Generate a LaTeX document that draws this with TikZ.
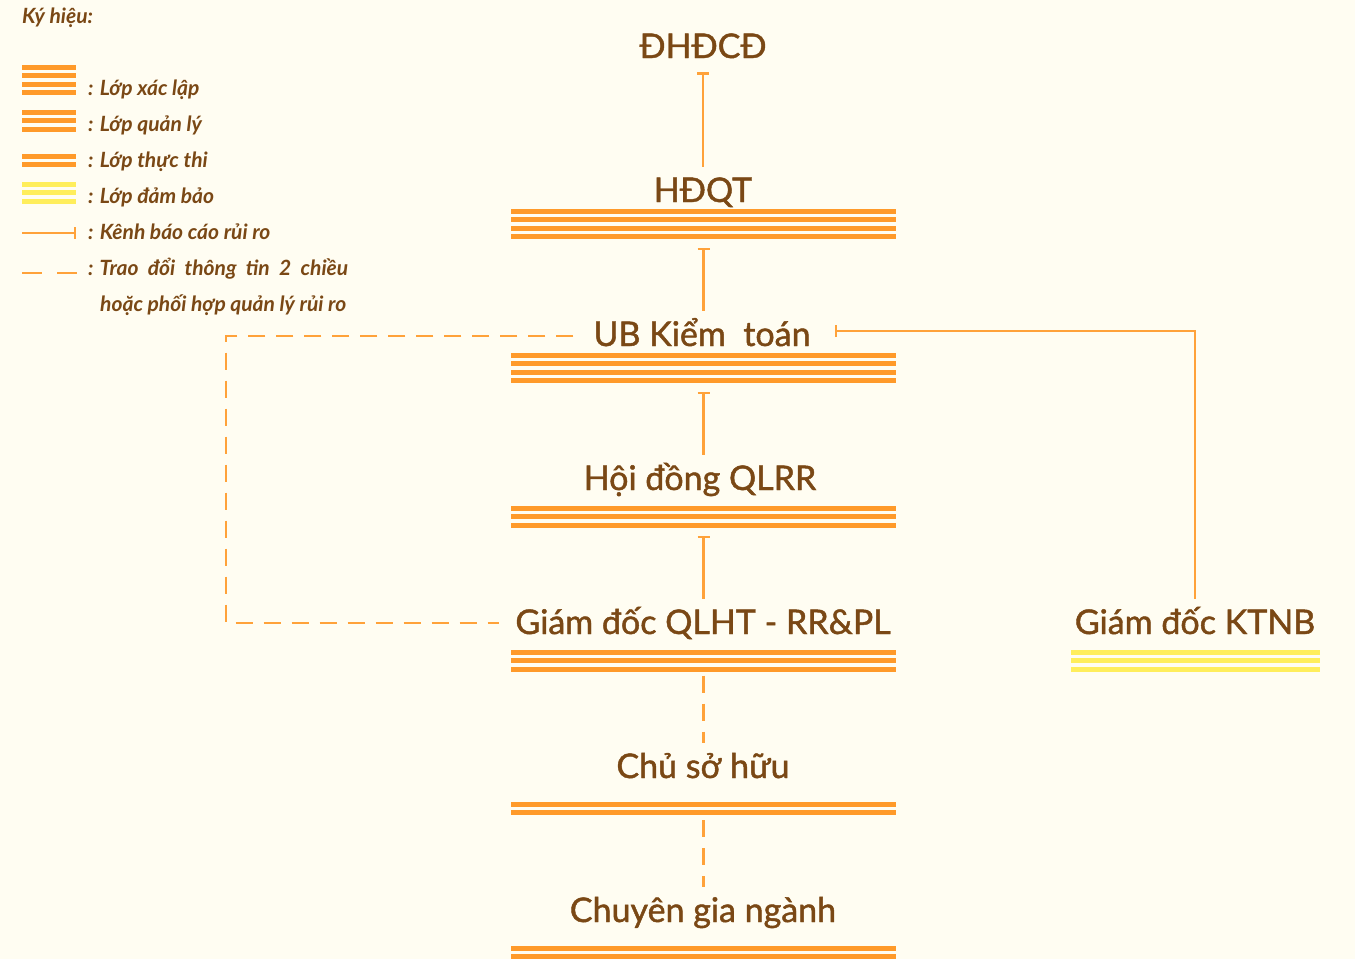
\documentclass[tikz,border=0pt]{standalone}
\usepackage{fontspec}
\setmainfont{Lato}
\newfontfamily\lblfont{Lato}[FakeBold=1.3]
\usetikzlibrary{arrows.meta}

\definecolor{paper}{HTML}{FFFDF2}
\definecolor{barorange}{HTML}{FF9A2A}
\definecolor{lineorange}{HTML}{FFA23A}
\definecolor{baryellow}{HTML}{FFEE5C}
\definecolor{textbrown}{HTML}{7A4815}

% name, x1, x2, top, number of bars, colour
\newcommand{\layerbar}[6]{%
  \foreach \k in {1,...,#5}
    \fill[#6] (#2,{#4+8.4*(\k-1)}) rectangle (#3,{#4+8.4*(\k-1)+4.8});
  \coordinate (#1) at ({(#2+#3)/2},{#4+8.4*(#5-1)+4.8});
}

\tikzset{
  lbl/.style={text=textbrown, font=\lblfont\fontsize{34}{34}\selectfont, inner sep=0pt,
    anchor=base, text height=35pt, text depth=0pt},
  key/.style={text=textbrown, font=\fontsize{21}{21}\selectfont\bfseries\itshape,
    inner sep=0pt, anchor=base west},
  report/.style={draw=lineorange, line width=2.4pt, -{Bar[width=12pt,line width=2.4pt]}},
  share/.style={draw=lineorange, line width=2.4pt, dash pattern=on 17pt off 11pt},
}

\begin{document}
\begin{tikzpicture}[x=1pt,y=-1pt]

\fill[paper] (0,0) rectangle (1355,959);
\useasboundingbox (0,0) rectangle (1355,959);

% legend
\node[key] (kyhieu) at (22,23) {Ký hiệu:};

\layerbar{key-xl}{22}{76}{65}{4}{barorange}
\layerbar{key-ql}{22}{76}{110}{3}{barorange}
\layerbar{key-tt}{22}{76}{154}{2}{barorange}
\layerbar{key-db}{22}{76}{182}{3}{baryellow}

\node[key] (key-xl-t) at (88,95) {: Lớp xác lập};
\node[key] (key-ql-t) at (88,131) {: Lớp quản lý};
\node[key] (key-tt-t) at (88,167) {: Lớp thực thi};
\node[key] (key-db-t) at (88,203) {: Lớp đảm bảo};
\node[key] (key-bc-t) at (88,239) {: Kênh báo cáo rủi ro};
\node[key] (key-td-t) at (88,275) {\makebox[260pt][s]{:\hspace{6pt}Trao đổi thông tin 2 chiều}};
\node[key] (key-td-t2) at (100,311) {hoặc phối hợp quản lý rủi ro};

\coordinate (key-bc-a) at (22,233);
\coordinate (key-bc-b) at (76,233);
\draw[report] (key-bc-a) -- (key-bc-b);

\coordinate (key-td-a) at (22,273);
\coordinate (key-td-b) at (77,273);
\draw[share, dash pattern=on 20pt off 15pt] (key-td-a) -- (key-td-b);

% levels
\node[lbl] (dhdcd) at (703,58) {ĐHĐCĐ};
\node[lbl] (hdqt) at (703,202) {HĐQT};
\node[lbl] (ubkt) at (702,346) {UB Kiểm\ \ toán};
\node[lbl] (hdqlrr) at (700,490) {Hội đồng QLRR};
\node[lbl] (gdqlht) at (703,634) {Giám đốc QLHT - RR\&PL};
\node[lbl] (gdktnb) at (1195,634) {Giám đốc KTNB};
\node[lbl] (chusohuu) at (703,778) {Chủ sở hữu};
\node[lbl] (chuyengia) at (703,922) {Chuyên gia ngành};

\layerbar{hdqt-b}{511}{896}{209}{4}{barorange}
\layerbar{ubkt-b}{511}{896}{353}{4}{barorange}
\layerbar{hdqlrr-b}{511}{896}{506}{3}{barorange}
\layerbar{gdqlht-b}{511}{896}{650}{3}{barorange}
\layerbar{chusohuu-b}{511}{896}{802}{2}{barorange}
\layerbar{chuyengia-b}{511}{896}{946}{2}{barorange}
\layerbar{gdktnb-b}{1071}{1320}{650}{3}{baryellow}

% reporting lines
\draw[report, shorten >=14pt] (hdqt.north) -- (dhdcd.south);
\draw[report, shorten >=9pt] (hdqt-b |- ubkt.north) -- (hdqt-b);
\draw[report, shorten >=9pt] (ubkt-b |- hdqlrr.north) -- (ubkt-b);
\draw[report, shorten >=8pt] (hdqlrr-b |- gdqlht.north) -- (hdqlrr-b);
\draw[report] (gdktnb.north) |- ([shift={(24,-15)}]ubkt.base east);

% two-way exchange
\coordinate (share-bend) at (226,336);
\draw[share] ([shift={(-20,-10)}]ubkt.base west) -- (share-bend) |- ([shift={(-16,-11)}]gdqlht.base west);
\draw[share, shorten <=4pt] (gdqlht-b) -- (gdqlht-b |- chusohuu.north);
\draw[share, shorten <=5pt] (chusohuu-b) -- (chusohuu-b |- chuyengia.north);

\end{tikzpicture}
\end{document}
